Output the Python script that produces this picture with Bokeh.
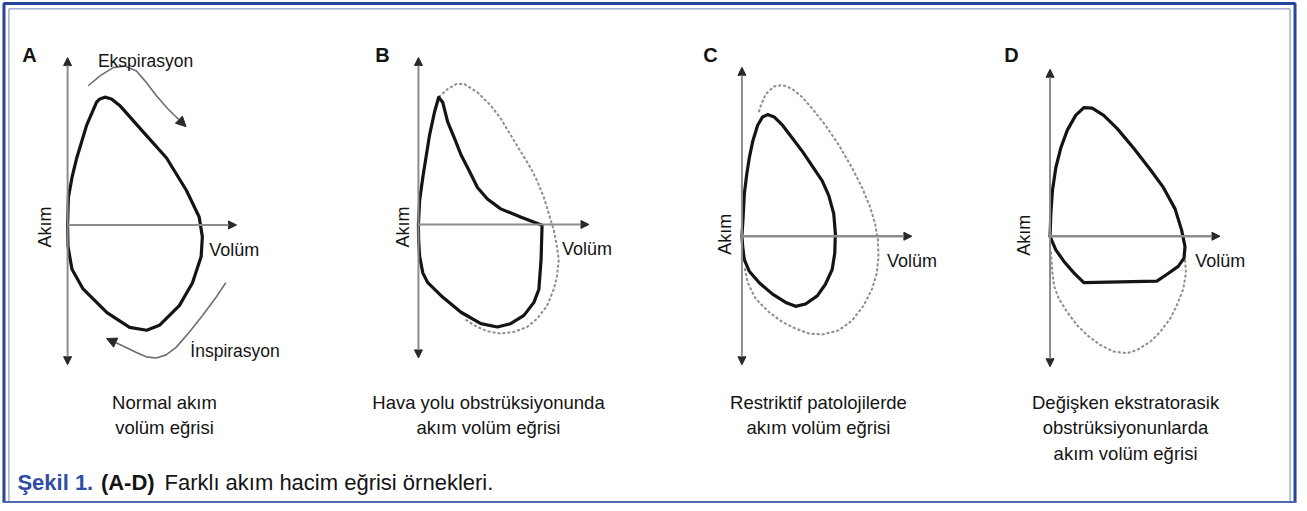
import math
from bokeh.plotting import figure
from bokeh.models import Range1d, Label, Arrow, NormalHead
from bokeh.embed import file_html
from bokeh.resources import INLINE

# ---------------- data (volume, flow) in schematic units ----------------
panels = ["A", "B", "C", "D"]
panel_letters = ["A", "B", "C", "D"]

a_loop_vol = [0, 0.04, 0.22, 0.46, 0.96, 1.46, 1.62, 1.88, 2.21, 2.62, 3.78, 4.98, 5.98, 6.62,
              6.78, 6.72, 6.28, 5.62, 4.62, 3.98, 3.12, 1.98, 0.78, 0.22, 0.02, 0]
a_loop_flow = [0, 1.4, 2.4, 3.4, 5.07, 6.24, 6.4, 6.49, 6.4, 6.07, 4.75, 3.4, 1.75, 0.4,
               -0.6, -1.6, -2.95, -4.1, -5.1, -5.35, -5.2, -4.45, -3.25, -2.25, -1.1, 0]

b_loop_vol = [0, 0.06, 0.22, 0.56, 0.81, 1.02, 1.22, 1.47, 1.81, 2.14, 2.56, 2.97, 3.47, 4.14,
              5.14, 6.22, 6.17, 6.06, 5.81, 5.31, 4.64, 3.97, 3.14, 2.14, 1.14, 0.47, 0.22,
              0.06, 0.01, 0]
b_loop_flow = [0, 1.21, 2.38, 4.54, 5.71, 6.46, 6.21, 5.21, 4.38, 3.54, 2.71, 1.88, 1.29, 0.79,
               0.38, -0.04, -1.79, -3.29, -3.96, -4.62, -5.04, -5.21, -5.04, -4.46, -3.62,
               -2.96, -2.46, -1.62, -0.79, 0]
b_ref_vol = [1.02, 1.47, 1.89, 2.31, 2.97, 3.64, 4.14, 4.64, 5.14, 5.64, 5.97, 6.31, 6.56, 6.81,
             6.97, 7.06, 6.97, 6.81, 6.47, 5.97, 5.47, 4.81, 4.14, 3.47, 2.81, 2.31]
b_ref_flow = [6.46, 6.88, 7.13, 7.13, 6.71, 6.04, 5.38, 4.54, 3.71, 2.88, 2.21, 1.38, 0.54, -0.29,
              -1.13, -1.79, -2.63, -3.29, -4.13, -4.79, -5.21, -5.46, -5.54, -5.43, -5.13, -4.79]

c_loop_vol = [0, 0.07, 0.12, 0.24, 0.37, 0.54, 0.79, 1.04, 1.29, 1.62, 2.04, 2.54, 3.04, 3.54,
              4.04, 4.37, 4.62, 4.7, 4.67, 4.54, 4.2, 3.79, 3.2, 2.7, 2.2, 1.54, 0.87, 0.37,
              0.12, 0.04, 0]
c_loop_flow = [0, 1.14, 2.14, 3.14, 3.98, 4.81, 5.64, 6.06, 6.18, 6.06, 5.64, 4.98, 4.31, 3.56,
               2.81, 2.06, 1.14, 0.14, -0.86, -1.69, -2.44, -3.03, -3.44, -3.56, -3.36, -2.94,
               -2.36, -1.78, -1.19, -0.53, 0]
c_ref_vol = [0.85, 0.95, 1.2, 1.62, 2.04, 2.54, 3.04, 3.54, 4.2, 4.87, 5.54, 6.04, 6.45, 6.7,
             6.84, 6.87, 6.79, 6.54, 6.12, 5.54, 4.87, 4.04, 3.37, 2.7, 2.04, 1.37, 0.7, 0.29, 0.12]
c_ref_flow = [6.3, 6.64, 7.23, 7.61, 7.68, 7.48, 7.06, 6.48, 5.64, 4.64, 3.48, 2.48, 1.48, 0.64,
              -0.19, -1.03, -1.86, -2.69, -3.53, -4.28, -4.78, -4.99, -4.94, -4.69, -4.36,
              -3.86, -3.19, -2.36, -1.53]

d_loop_vol = [0, 0.04, 0.12, 0.29, 0.54, 0.87, 1.29, 1.7, 2.12, 2.7, 3.37, 4.2, 5.04, 5.7, 6.29,
              6.62, 6.79, 6.74, 6.45, 5.87, 5.37, 1.7, 1.2, 0.7, 0.29, 0]
d_loop_flow = [0, 1.14, 2.31, 3.48, 4.48, 5.39, 6.14, 6.53, 6.51, 6.14, 5.48, 4.48, 3.39, 2.48,
               1.39, 0.31, -0.53, -1.11, -1.53, -1.94, -2.28, -2.36, -1.86, -1.28, -0.69, 0]
d_ref_vol = [6.79, 6.84, 6.7, 6.37, 6.04, 5.54, 5.04, 4.37, 3.87, 3.2, 2.54, 1.87, 1.37, 0.87,
             0.45, 0.2, 0.12, 0.07, 0.04]
d_ref_flow = [-1.19, -1.86, -2.69, -3.53, -4.19, -4.86, -5.36, -5.78, -5.94, -5.86, -5.53, -5.03,
              -4.53, -3.86, -3.19, -2.53, -1.86, -1.19, -0.69]

# curved direction arrows of panel A
exp_arrow_vol = [1.04, 1.63, 2.29, 2.88, 3.46, 3.96, 4.46, 5.04, 5.96]
exp_arrow_flow = [7.07, 7.57, 7.99, 8.07, 7.82, 7.24, 6.57, 5.9, 4.99]
insp_arrow_vol = [7.96, 7.46, 6.79, 6.13, 5.46, 4.96, 4.46, 3.96, 3.46, 2.79, 1.96]
insp_arrow_flow = [-2.94, -3.69, -4.6, -5.44, -6.22, -6.6, -6.76, -6.7, -6.48, -6.15, -5.77]

# axis extents (volume max, flow top, flow bottom)
axis_vol_max = [8.5, 8.58, 8.55, 8.55]
axis_flow_top = [8.5, 8.48, 8.58, 8.48]
axis_flow_bottom = [-7.1, -6.78, -6.53, -6.63]

captions = [
    ["Normal akım", "volüm eğrisi"],
    ["Hava yolu obstrüksiyonunda", "akım volüm eğrisi"],
    ["Restriktif patolojilerde", "akım volüm eğrisi"],
    ["Değişken ekstratorasik", "obstrüksiyonunlarda", "akım volüm eğrisi"],
]

loops = {"A": (a_loop_vol, a_loop_flow), "B": (b_loop_vol, b_loop_flow),
         "C": (c_loop_vol, c_loop_flow), "D": (d_loop_vol, d_loop_flow)}
refs = {"B": (b_ref_vol, b_ref_flow), "C": (c_ref_vol, c_ref_flow), "D": (d_ref_vol, d_ref_flow)}

# ---------------- layout (page pixel coordinates of the picture) ----------------
W, H = 1307, 511
origins = {"A": (67.5, 228.0), "B": (420.5, 227.5), "C": (746.0, 239.5), "D": (1056.0, 239.5)}
PX_PER_UNIT = 20.0
caption_x = [165, 491, 823, 1132]
letter_x = [22, 377, 707, 1010]
akim_xy = [(45, 230), (405, 230), (728.5, 237.5), (1029.5, 238.5)]
volum_xy = [(210, 253), (565, 252), (892, 265), (1202, 265)]

FONT = "Liberation Sans"
INK = "#141414"
AXIS = "#8c8c8c"
DASH = "#8e8e8e"

p = figure(width=1299, height=503, x_range=Range1d(0, W), y_range=Range1d(H, 0),
           output_backend="svg", toolbar_location=None, min_border=0,
           x_axis_location=None, y_axis_location=None, tools="")
p.grid.visible = False
p.outline_line_color = None
p.background_fill_color = "white"
p.border_fill_color = "white"

for k in panels:
    ox, oy = origins[k]
    p.extra_x_ranges[k + "x"] = Range1d((0 - ox) / PX_PER_UNIT, (W - ox) / PX_PER_UNIT)
    p.extra_y_ranges[k + "y"] = Range1d((oy - H) / PX_PER_UNIT, oy / PX_PER_UNIT)

# frame
BLUE_D = "#28439a"
BLUE_L = "#7084c6"
p.line([3.5, 3.5, 1302.5, 1302.5], [509.5, 3, 3, 509.5], line_color=BLUE_D, line_width=3)
p.line([8.5, 8.5, 1297.5, 1297.5], [509.5, 8.5, 8.5, 509.5], line_color=BLUE_L, line_width=1)
p.line([2, 1304], [509.5, 509.5], line_color="#5369b4", line_width=2)

def head():
    return NormalHead(size=8, fill_color="#2a2a2a", line_color="#2a2a2a", line_width=1)

for i, k in enumerate(panels):
    xr, yr = k + "x", k + "y"
    # axes
    p.add_layout(Arrow(x_start=0, y_start=axis_flow_bottom[i], x_end=0, y_end=axis_flow_top[i],
                       start=head(), end=head(), line_color=AXIS, line_width=2,
                       x_range_name=xr, y_range_name=yr))
    p.add_layout(Arrow(x_start=0, y_start=0, x_end=axis_vol_max[i], y_end=0,
                       end=head(), line_color=AXIS, line_width=2 if k in "AB" else 2.6,
                       x_range_name=xr, y_range_name=yr))
    # reference (normal) loop, dashed
    if k in refs:
        rv, rf = refs[k]
        p.line(rv, rf, line_color=DASH, line_width=2, line_dash="3 2", line_join="round",
               x_range_name=xr, y_range_name=yr)
    # patient loop
    lv, lf = loops[k]
    p.line(lv, lf, line_color=INK, line_width=3.2, line_join="round", line_cap="round",
           x_range_name=xr, y_range_name=yr)

    # texts
    p.add_layout(Label(x=letter_x[i], y=55, text=panel_letters[i], text_font=FONT,
                       text_font_style="bold", text_font_size="20px", text_color=INK,
                       text_baseline="alphabetic", text_align="left"))
    ax, ay = akim_xy[i]
    p.add_layout(Label(x=ax, y=ay, text="Akım", angle=math.pi / 2, text_font=FONT,
                       text_font_size="18px", text_color=INK, text_align="center",
                       text_baseline="middle"))
    vx, vy = volum_xy[i]
    p.add_layout(Label(x=vx, y=vy, text="Volüm", text_font=FONT, text_font_size="18px",
                       text_color=INK, text_align="left", text_baseline="alphabetic"))
    for j, line in enumerate(captions[i]):
        p.add_layout(Label(x=caption_x[i], y=408 + 26 * j, text=line, text_font=FONT,
                           text_font_size="18.5px", text_color=INK, text_align="center",
                           text_baseline="alphabetic"))

# curved direction arrows in panel A
for vs, fs in [(exp_arrow_vol, exp_arrow_flow), (insp_arrow_vol, insp_arrow_flow)]:
    p.line(vs[:-1], fs[:-1], line_color="#6e6e6e", line_width=1.6, line_join="round",
           x_range_name="Ax", y_range_name="Ay")
    p.add_layout(Arrow(x_start=vs[-2], y_start=fs[-2], x_end=vs[-1], y_end=fs[-1],
                       end=NormalHead(size=10, fill_color="#2a2a2a", line_color="#2a2a2a"),
                       line_color="#6e6e6e", line_width=1.6,
                       x_range_name="Ax", y_range_name="Ay"))

p.add_layout(Label(x=98, y=61, text="Ekspirasyon", text_font=FONT, text_font_size="17.5px",
                   text_color=INK, text_baseline="alphabetic"))
p.add_layout(Label(x=191, y=356, text="İnspirasyon", text_font=FONT, text_font_size="17.5px",
                   text_color=INK, text_baseline="alphabetic"))

# figure caption
p.add_layout(Label(x=17, y=490, text="Şekil 1.", text_font=FONT, text_font_style="bold",
                   text_font_size="22px", text_color="#2f4ea3", text_baseline="alphabetic"))
p.add_layout(Label(x=101, y=490, text="(A-D)", text_font=FONT, text_font_style="bold",
                   text_font_size="22px", text_color=INK, text_baseline="alphabetic"))
p.add_layout(Label(x=165, y=490, text="Farklı akım hacim eğrisi örnekleri.", text_font=FONT,
                   text_font_size="22px", text_color=INK, text_baseline="alphabetic"))

open("out.html", "w").write(file_html(p, INLINE))
